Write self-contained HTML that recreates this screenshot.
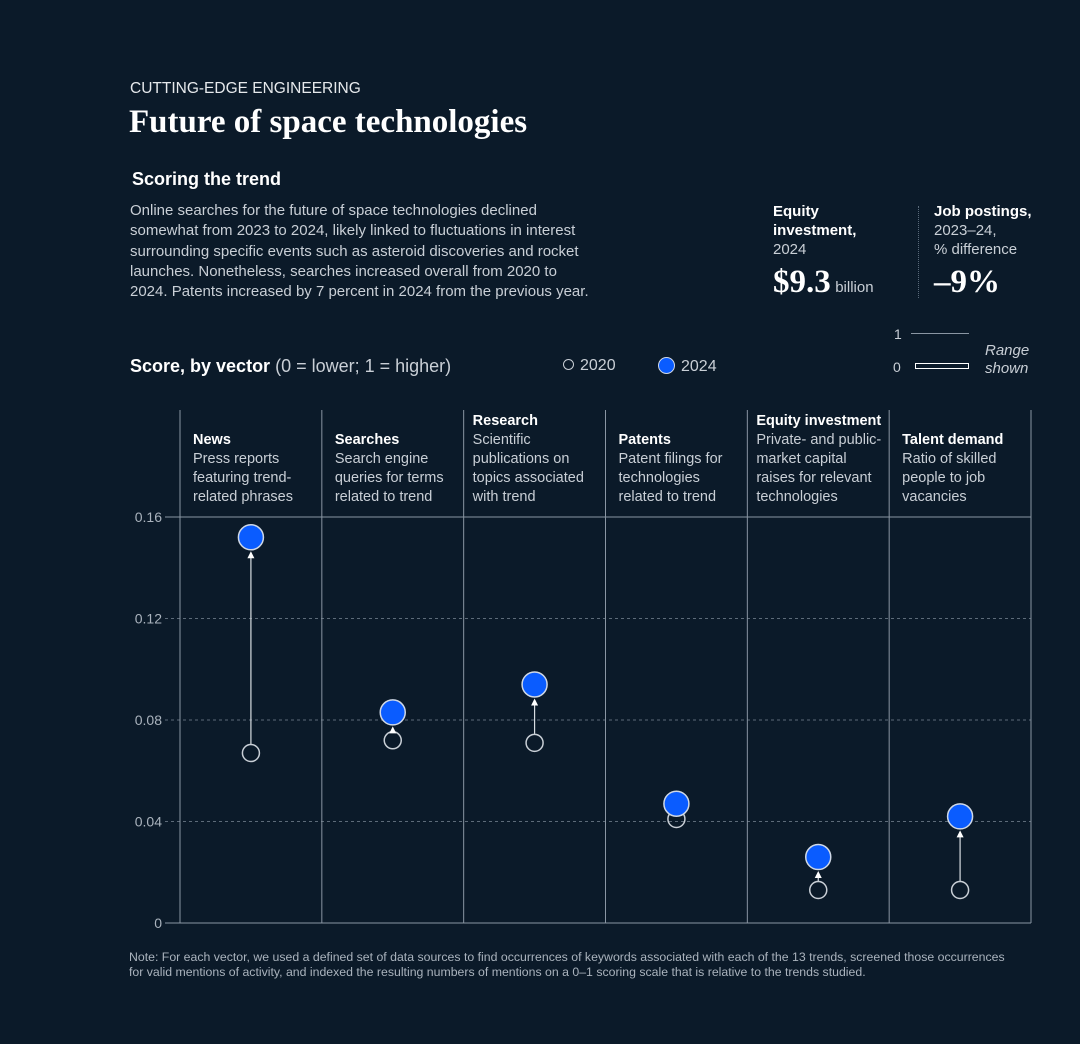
<!DOCTYPE html>
<html><head><meta charset="utf-8">
<style>
html,body{margin:0;padding:0;background:#0b1a29;}
body{width:1080px;height:1044px;position:relative;overflow:hidden;font-family:"Liberation Sans",sans-serif;color:#fff;}
.a{position:absolute;white-space:nowrap;}
.g{color:#c9cfd6;}
</style></head><body>
<div class="a" style="left:130px;top:80px;font-size:15.5px;color:#e6e9ec;">CUTTING-EDGE ENGINEERING</div>
<div class="a" style="left:129px;top:104px;font-family:'Liberation Serif',serif;font-size:33px;font-weight:bold;">Future of space technologies</div>
<div class="a" style="left:132px;top:169px;font-size:18px;font-weight:bold;">Scoring the trend</div>
<div class="a g" style="left:130px;top:201px;font-size:15px;line-height:20.3px;">Online searches for the future of space technologies declined<br>somewhat from 2023 to 2024, likely linked to fluctuations in interest<br>surrounding specific events such as asteroid discoveries and rocket<br>launches. Nonetheless, searches increased overall from 2020 to<br>2024. Patents increased by 7 percent in 2024 from the previous year.</div>

<div class="a" style="left:773px;top:202px;font-size:15px;line-height:19px;"><b>Equity<br>investment,</b><br><span class="g">2024</span></div>
<div class="a" style="left:773px;top:264px;"><span style="font-family:'Liberation Serif',serif;font-size:33px;font-weight:bold;">$9.3</span> <span class="g" style="font-size:15px;">billion</span></div>
<div class="a" style="left:918px;top:206px;height:92px;border-left:1px dotted #5a6a7a;"></div>
<div class="a" style="left:934px;top:202px;font-size:15px;line-height:19px;"><b>Job postings,</b><br><span class="g">2023–24,<br>% difference</span></div>
<div class="a" style="left:934px;top:264px;font-family:'Liberation Serif',serif;font-size:33px;font-weight:bold;">–9%</div>

<div class="a g" style="left:894px;top:326px;font-size:14px;">1</div>
<div class="a" style="left:911px;top:333px;width:58px;border-top:1px solid #8a96a3;"></div>
<div class="a g" style="left:893px;top:359px;font-size:14px;">0</div>
<div class="a" style="left:915px;top:363px;width:52px;height:4px;border:1.5px solid #fff;"></div>
<div class="a g" style="left:985px;top:342px;font-size:15px;font-style:italic;line-height:18px;">Range<br>shown</div>

<div class="a" style="left:130px;top:356px;font-size:18px;"><b>Score, by vector</b> <span class="g">(0 = lower; 1 = higher)</span></div>
<div class="a g" style="left:563px;top:357px;font-size:16px;"><span style="display:inline-block;width:9px;height:9px;border:1.5px solid #c9cfd6;border-radius:50%;margin-right:6px;"></span>2020</div>
<div class="a g" style="left:658px;top:357px;font-size:16px;"><span style="display:inline-block;width:15px;height:15px;background:#0a5cff;border:1.5px solid #cfd8e6;border-radius:50%;margin-right:6px;vertical-align:-3px;"></span>2024</div>

<svg id="chart" width="1080" height="1044" style="position:absolute;left:0;top:0;" xmlns="http://www.w3.org/2000/svg"></svg>

<div class="a" style="left:129px;top:950px;font-size:12.3px;line-height:14.5px;color:#aab3bd;">Note: For each vector, we used a defined set of data sources to find occurrences of keywords associated with each of the 13 trends, screened those occurrences<br>for valid mentions of activity, and indexed the resulting numbers of mentions on a 0–1 scoring scale that is relative to the trends studied.</div>

<script>
const categories = ["News","Searches","Research","Patents","Equity investment","Talent demand"];
const descriptions = [["Press reports","featuring trend-","related phrases"],["Search engine","queries for terms","related to trend"],["Scientific","publications on","topics associated","with trend"],["Patent filings for","technologies","related to trend"],["Private- and public-","market capital","raises for relevant","technologies"],["Ratio of skilled","people to job","vacancies"]];
const values2020 = [0.067,0.072,0.071,0.041,0.013,0.013];
const values2024 = [0.152,0.083,0.094,0.047,0.026,0.042];
const yTicks = [0,0.04,0.08,0.12,0.16];
const yTickLabels = ["0","0.04","0.08","0.12","0.16"];

const NS="http://www.w3.org/2000/svg";
const svg=document.getElementById('chart');
const L=180,R=1031,Y0=923,Y1=517,TOP=410;
const colW=(R-L)/categories.length;
const y=v=>Y0-(v/0.16)*(Y0-Y1);
const x=i=>L+colW*i+colW/2;
function mk(t,a){const e=document.createElementNS(NS,t);for(const k in a)e.setAttribute(k,a[k]);svg.appendChild(e);return e;}

yTicks.forEach((t,i)=>{
  const solid=(t===0||t===0.16);
  const ln=mk('line',{x1:L-15,x2:R,y1:y(t),y2:y(t),stroke:solid?'#8a96a3':'#5d6b79','stroke-width':1,'stroke-dasharray':solid?'':'3,3'});
  
  
  const tx=mk('text',{x:162,y:y(t)+5,'text-anchor':'end','font-size':14,fill:'#aab3bd','font-family':'Liberation Sans, sans-serif'});
  tx.textContent=yTickLabels[i];
  
  
});
for(let i=0;i<=categories.length;i++){
  const ln=mk('line',{x1:L+colW*i,x2:L+colW*i,y1:TOP,y2:Y0,stroke:'#8a96a3','stroke-width':1});
  
  
}
categories.forEach((c,i)=>{
  const lines=descriptions[i];
  const lh=19;
  const startY=501-lh*lines.length;
  const t=mk('text',{x:L+colW*i+(lines.length>3?9:13),y:startY,'font-size':14.5,'font-weight':'bold',fill:'#fff','font-family':'Liberation Sans, sans-serif'});
  t.textContent=c;
  
  
  lines.forEach((s,j)=>{
    const d=mk('text',{x:L+colW*i+(lines.length>3?9:13),y:startY+lh*(j+1),'font-size':14.5,fill:'#c9cfd6','font-family':'Liberation Sans, sans-serif'});
    d.textContent=s;
    
    
  });
  const cx=x(i), ya=y(values2020[i]), yb=y(values2024[i]);
  const top=yb+14, bot=ya-9;
  const c0=mk('circle',{cx:cx,cy:ya,r:8.5,fill:'none',stroke:'#c9cfd6','stroke-width':1.5});
  
  
  if(bot-top>4){
    const ln=mk('line',{x1:cx,x2:cx,y1:bot,y2:top+6,stroke:'#d8dde2','stroke-width':1.2});
    
    
  }
  if(bot-top>-2){
    const ar=mk('path',{d:`M${cx-3.5},${top+7}L${cx+3.5},${top+7}L${cx},${top}Z`,fill:'#fff'});
    
    
  }
  const c1=mk('circle',{cx:cx,cy:yb,r:12.5,fill:'#0a5cff',stroke:'#cfd8e6','stroke-width':1.5});
  
  
});
</script>
</body></html>
